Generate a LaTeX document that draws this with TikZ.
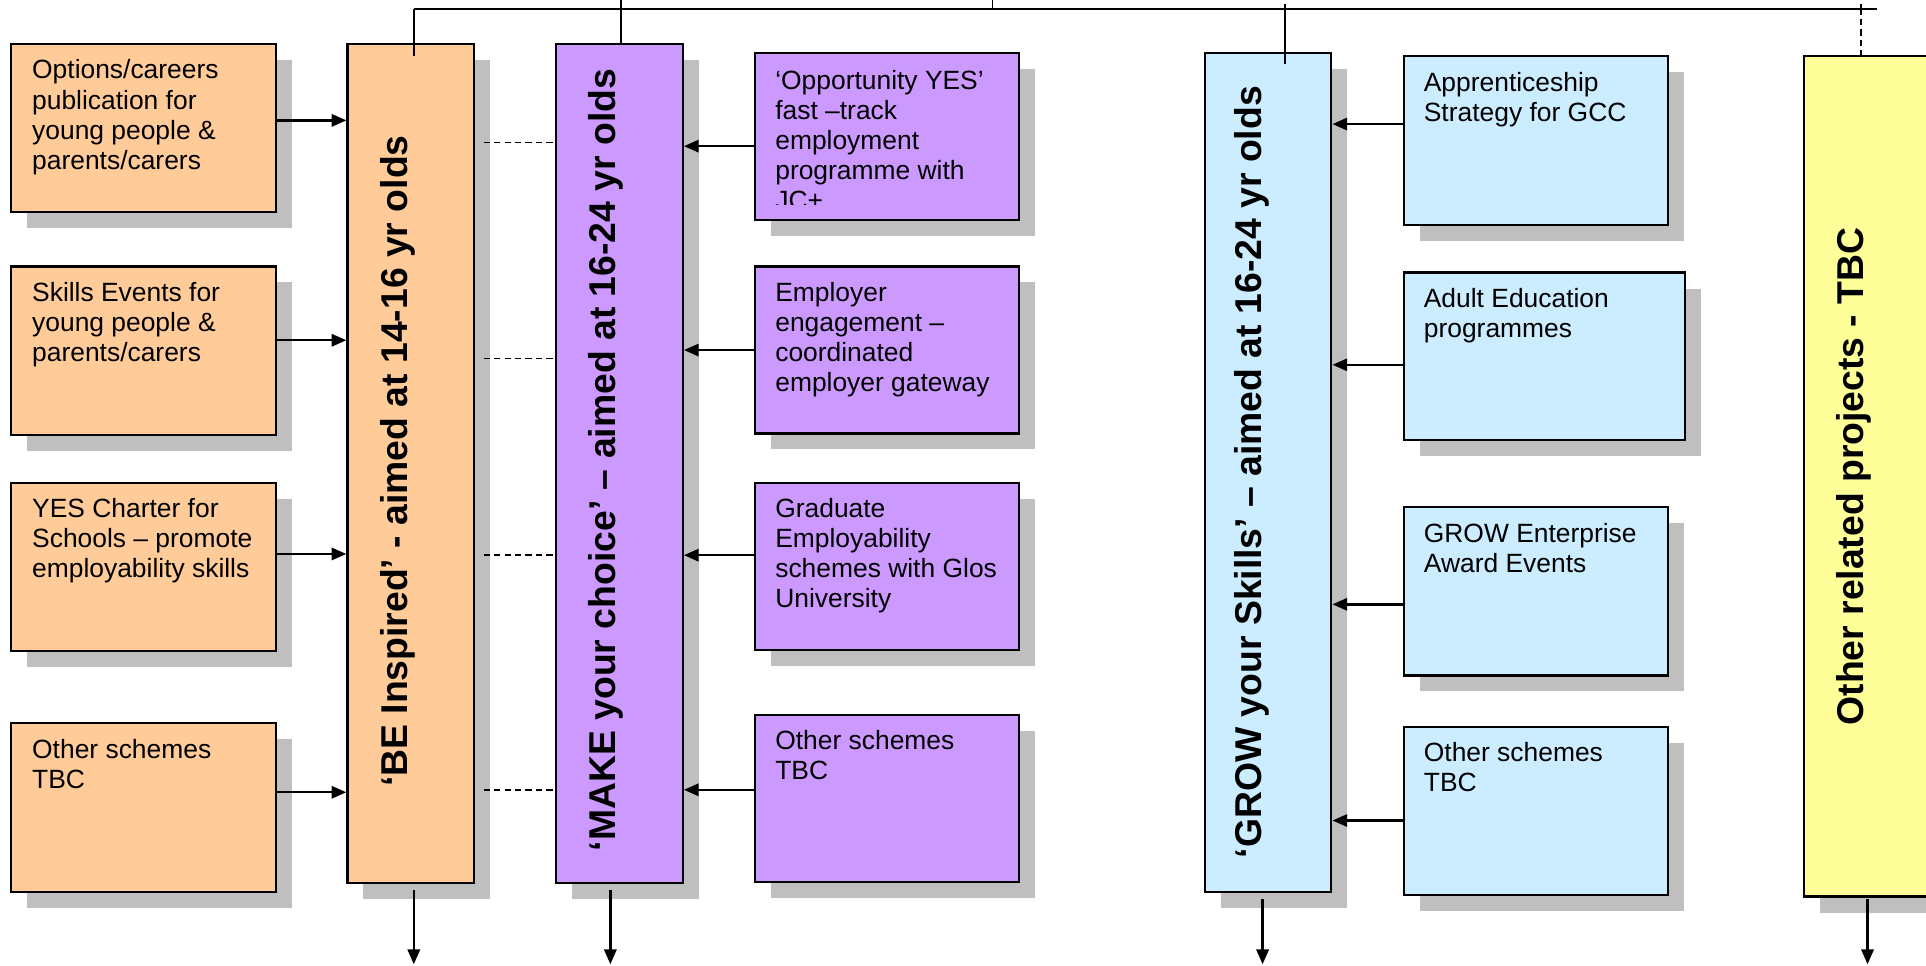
\documentclass[tikz,border=0pt]{standalone}
\usepackage{fontspec}
\setmainfont{Liberation Sans}
\usetikzlibrary{arrows.meta,shadows}
\definecolor{orangebox}{RGB}{255,204,153}
\definecolor{purplebox}{RGB}{204,153,255}
\definecolor{bluebox}{RGB}{204,236,255}
\definecolor{yellowbox}{RGB}{255,255,153}
\definecolor{shadowgrey}{RGB}{191,191,191}
\begin{document}
\begin{tikzpicture}[x=1pt,y=-1pt,
  font=\fontsize{21.5}{24.5}\selectfont,
  sh/.style={drop shadow={shadow xshift=13pt,shadow yshift=-13pt,fill=shadowgrey,draw=none,opacity=1}},
  box/.style={draw=black,line width=1.8pt,inner sep=0pt,anchor=north west,sh},
  small/.style={box,minimum width=216pt,minimum height=137pt},
  col/.style={box,minimum width=103pt,minimum height=683pt},
  txt/.style={anchor=north west,inner sep=0pt,align=left},
  coltxt/.style={anchor=base,rotate=90,inner sep=0pt,font=\fontsize{30.4}{36}\selectfont\bfseries},
  arr/.style={line width=1.9pt,-{Triangle[length=12pt,width=10pt]}},
  link/.style={line width=1.5pt},
  dashlink/.style={line width=1.3pt,dash pattern=on 5pt off 3.5pt}
]
\useasboundingbox (0,0) rectangle (1568,786);
\clip (0,0) rectangle (1568,786);

% columns
\node[col,fill=orangebox] (be) at (282,35) {};
\node[col,fill=purplebox] (mk) at (452,35) {};
\node[col,fill=bluebox] (gr) at (980,42) {};
\node[col,fill=yellowbox,minimum height=684pt] (yl) at (1468,45) {};

\node[coltxt] (bet) at ([xshift=-3pt,yshift=2pt]be.center) {‘BE Inspired’ - aimed at 14-16 yr olds};
\node[coltxt] (mkt) at ([xshift=-3pt,yshift=3pt]mk.center) {‘MAKE your choice’ – aimed at 16-24 yr olds};
\node[coltxt] (grt) at ([xshift=-5pt]gr.center) {‘GROW your Skills’ – aimed at 16-24 yr olds};
\node[coltxt] (ylt) at ([xshift=-3pt]yl.center) {Other related projects - TBC};

% orange boxes
\node[small,fill=orangebox] (o1) at (8,35) {};
\node[small,fill=orangebox] (o2) at (8,216) {};
\node[small,fill=orangebox] (o3) at (8,392) {};
\node[small,fill=orangebox] (o4) at (8,588) {};
\node[txt] (o1t) at ([xshift=18pt,yshift=-13.5pt]o1.north west) {Options/careers\\publication for\\young people \&\\parents/carers};
\node[txt] (o2t) at ([xshift=18pt,yshift=-13.5pt]o2.north west) {Skills Events for\\young people \&\\parents/carers};
\node[txt] (o3t) at ([xshift=18pt,yshift=-13.5pt]o3.north west) {YES Charter for\\Schools – promote\\employability skills};
\node[txt] (o4t) at ([xshift=18pt,yshift=-13.5pt]o4.north west) {Other schemes\\TBC};

% purple boxes
\node[small,fill=purplebox,minimum width=215pt,minimum height=136pt] (p1) at (614,42) {};
\node[small,fill=purplebox,minimum width=215pt,minimum height=136pt] (p2) at (614,216) {};
\node[small,fill=purplebox,minimum width=215pt,minimum height=136pt] (p3) at (614,392) {};
\node[small,fill=purplebox,minimum width=215pt,minimum height=136pt] (p4) at (614,581) {};
\begin{scope}
\clip (p1.north west) rectangle ([yshift=13pt]p1.south east);
\node[txt] (p1t) at ([xshift=17pt,yshift=-15pt]p1.north west) {‘Opportunity YES’\\fast –track\\employment\\programme with\\JC+};
\end{scope}
\node[txt] (p2t) at ([xshift=17pt,yshift=-13.5pt]p2.north west) {Employer\\engagement –\\coordinated\\employer gateway};
\node[txt] (p3t) at ([xshift=17pt,yshift=-13.5pt]p3.north west) {Graduate\\Employability\\schemes with Glos\\University};
\node[txt] (p4t) at ([xshift=17pt,yshift=-13.5pt]p4.north west) {Other schemes\\TBC};

% blue boxes
\node[small,fill=bluebox,minimum width=215pt] (b1) at (1142,45) {};
\node[small,fill=bluebox,minimum width=229pt,minimum height=136pt] (b2) at (1142,221) {};
\node[small,fill=bluebox,minimum width=215pt] (b3) at (1142,412) {};
\node[small,fill=bluebox,minimum width=215pt] (b4) at (1142,591) {};
\node[txt] (b1t) at ([xshift=17pt,yshift=-13.5pt]b1.north west) {Apprenticeship\\Strategy for GCC};
\node[txt] (b2t) at ([xshift=17pt,yshift=-13.5pt]b2.north west) {Adult Education\\programmes};
\node[txt] (b3t) at ([xshift=17pt,yshift=-13.5pt]b3.north west) {GROW Enterprise\\Award Events};
\node[txt] (b4t) at ([xshift=17pt,yshift=-13.5pt]b4.north west) {Other schemes\\TBC};

% top connector
\coordinate (tr) at (1528,7);
\coordinate (up) at (808,0);
\coordinate (bec) at ([xshift=2.5pt]be.north);
\coordinate (mkc) at ([xshift=1.5pt]mk.north);
\coordinate (grc) at ([xshift=13.5pt]gr.north);
\coordinate (ylc) at ([xshift=-5.5pt]yl.north);
\draw[link] (bec |- tr) -- (tr);
\draw[link] (bec |- tr) -- ([yshift=-11pt]bec);
\draw[link] (mkc |- up) -- (mkc);
\draw[link] (up) -- (up |- tr);
\draw[link] (grc |- 0,3) -- ([yshift=-10pt]grc);
\draw[link] (ylc |- 0,3) -- (ylc |- 0,11);
\draw[dashlink] (ylc |- tr) -- (ylc);

% arrows into columns
\draw[arr] (o1.east |- 0,98) -- (be.west |- 0,98);
\draw[arr] (o2.east |- 0,277) -- (be.west |- 0,277);
\draw[arr] (o3.east |- 0,451) -- (be.west |- 0,451);
\draw[arr] (o4.east |- 0,645) -- (be.west |- 0,645);
\draw[arr] (p1.west |- 0,119) -- (mk.east |- 0,119);
\draw[arr] (p2.west |- 0,285) -- (mk.east |- 0,285);
\draw[arr] (p3.west |- 0,452) -- (mk.east |- 0,452);
\draw[arr] (p4.west |- 0,643) -- (mk.east |- 0,643);
\draw[arr] (b1.west |- 0,101) -- (gr.east |- 0,101);
\draw[arr] (b2.west |- 0,297) -- (gr.east |- 0,297);
\draw[arr] (b3.west |- 0,492) -- (gr.east |- 0,492);
\draw[arr] (b4.west |- 0,668) -- (gr.east |- 0,668);

% dashed links between BE and MAKE
\draw[dashlink] ([xshift=7pt]be.east |- 0,116) -- (mk.west |- 0,116);
\draw[dashlink] ([xshift=7pt]be.east |- 0,292) -- (mk.west |- 0,292);
\draw[dashlink] ([xshift=7pt]be.east |- 0,452) -- (mk.west |- 0,452);
\draw[dashlink] ([xshift=7pt]be.east |- 0,643) -- (mk.west |- 0,643);

% down arrows
\coordinate (bed) at ([xshift=2.5pt,yshift=-5pt]be.south);
\coordinate (mkd) at ([xshift=-7.5pt,yshift=-5pt]mk.south);
\coordinate (grd) at ([xshift=-4.5pt,yshift=-5pt]gr.south);
\coordinate (yld) at ([yshift=-1pt]yl.south);
\draw[arr] (bed) -- (bed |- 0,785);
\draw[arr] (mkd) -- (mkd |- 0,785);
\draw[arr] (grd) -- (grd |- 0,785);
\draw[arr] (yld) -- (yld |- 0,785);
\end{tikzpicture}
\end{document}
